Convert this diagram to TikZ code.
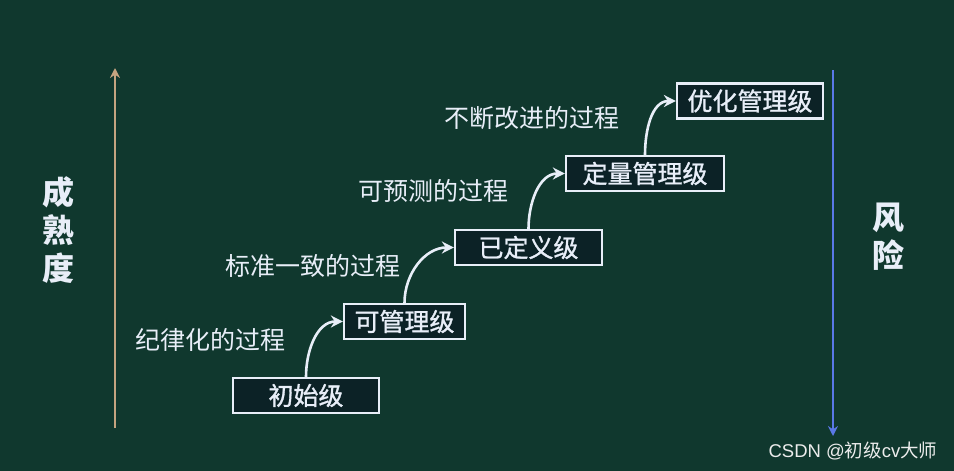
\documentclass[tikz,border=0pt]{standalone}
\usepackage{fontspec}
\setmainfont{Noto Sans CJK SC}
\newfontfamily\cjk{Noto Sans CJK SC}
\newfontfamily\cjkm[FakeBold=1.2]{Noto Sans CJK SC}
\newfontfamily\wm{Liberation Sans}
\usetikzlibrary{arrows.meta}
\definecolor{bg}{RGB}{16,56,46}
\definecolor{boxfill}{RGB}{12,34,38}
\definecolor{txt}{RGB}{232,238,248}
\definecolor{tan}{RGB}{196,164,128}
\definecolor{riskblue}{RGB}{90,120,230}
\tikzset{
  lvl/.style={draw=txt, line width=2.2pt, fill=boxfill, text=txt, font=\cjkm\fontsize{25}{25}\selectfont,
    minimum height=35pt, inner sep=0pt},
  lab/.style={text=txt, font=\cjk\fontsize{25}{25}\selectfont},
  flow/.style={draw=txt, line width=2.6pt, -{Stealth[length=12pt,width=12pt]}},
  side/.style={text=txt, font=\cjk\fontsize{32}{38}\selectfont\bfseries, align=center},
}
\begin{document}
\begin{tikzpicture}[x=1pt,y=-1pt]
\fill[bg] (0,0) rectangle (954,471);
\useasboundingbox (0,0) rectangle (954,471);
% level boxes
\node[lvl, minimum width=146pt] (b1) at (306,395.5) {初始级};
\node[lvl, minimum width=121pt] (b2) at (404.5,321.5) {可管理级};
\node[lvl, minimum width=147pt] (b3) at (528.5,247.5) {已定义级};
\node[lvl, minimum width=158pt] (b4) at (645,173.5) {定量管理级};
\node[lvl, minimum width=146pt] (b5) at (750,101) {优化管理级};
% curved arrows
\draw[flow] (b1.north) to[out=90,in=180] (b2.west);
\draw[flow] (b2.north) to[out=90,in=180] (b3.west);
\draw[flow] (b3.north) to[out=90,in=180] (b4.west);
\draw[flow] (b4.north) to[out=90,in=180] (b5.west);
% process labels
\node[lab] (l1) at (210,340) {纪律化的过程};
\node[lab] (l2) at (313,266) {标准一致的过程};
\node[lab] (l3) at (433,191) {可预测的过程};
\node[lab] (l4) at (532,118) {不断改进的过程};
% maturity axis
\coordinate (m0) at (115,428);
\coordinate (m1) at (115,68);
\draw[tan, line width=2.4pt, -{Stealth[length=10pt,width=10pt]}] (m0) -- (m1);
\node[side] (mat) at (58,230) {成\\熟\\度};
% risk axis
\coordinate (r0) at (833,70);
\coordinate (r1) at (833,436);
\draw[riskblue, line width=2.4pt, -{Stealth[length=10pt,width=10pt]}] (r0) -- (r1);
\node[side] (risk) at (888,237) {风\\险};
% watermark
\node[text=white!85!gray, font=\fontsize{18.5}{18.5}\selectfont] (wmk) at (853,451) {{\wm CSDN @}{\cjk 初级}{\wm cv}{\cjk 大师}};
\end{tikzpicture}
\end{document}
